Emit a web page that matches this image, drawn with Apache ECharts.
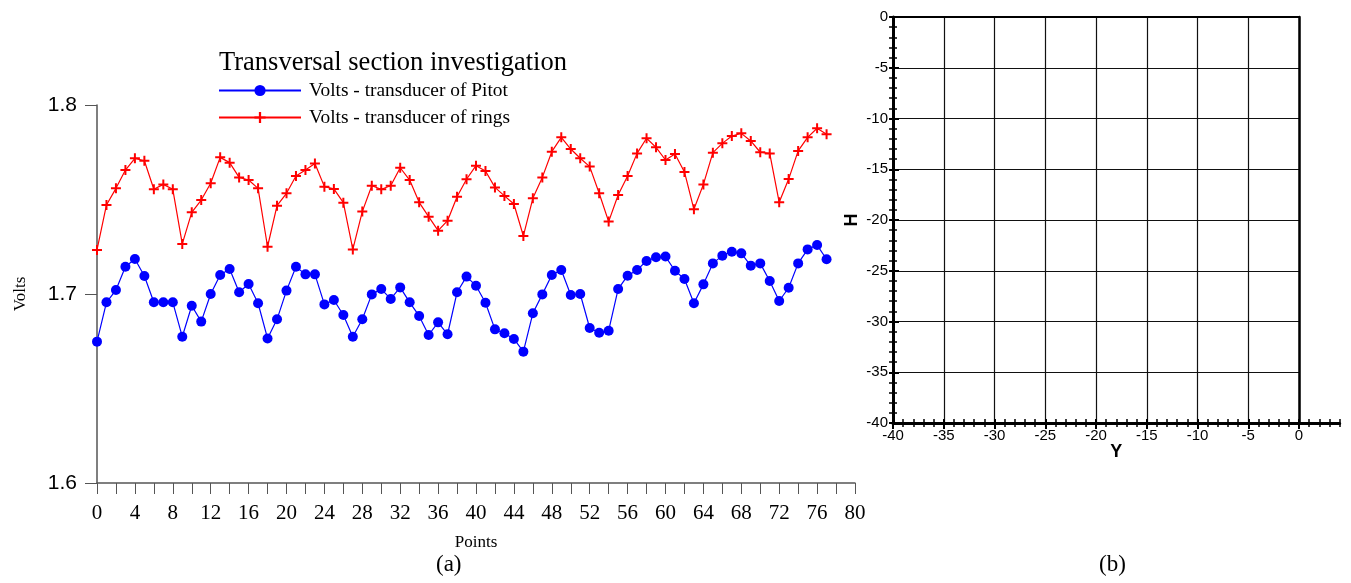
<!DOCTYPE html>
<html>
<head>
<meta charset="utf-8">
<script src="https://cdn.jsdelivr.net/npm/echarts@6/dist/echarts.min.js"></script>
<style>html,body{margin:0;padding:0;background:#fff}#c{width:1351px;height:583px}</style>
</head>
<body>
<div id="c"></div>
<script>
const chartTitle = 'Transversal section investigation';
const seriesNames = ['Volts - transducer of Pitot', 'Volts - transducer of rings'];
const points = [0,1,2,3,4,5,6,7,8,9,10,11,12,13,14,15,16,17,18,19,20,21,22,23,24,25,26,27,28,29,30,31,32,33,34,35,36,37,38,39,40,41,42,43,44,45,46,47,48,49,50,51,52,53,54,55,56,57,58,59,60,61,62,63,64,65,66,67,68,69,70,71,72,73,74,75,76,77];
const pitot = [1.6748,1.6956,1.7021,1.7144,1.7185,1.7095,1.6956,1.6956,1.6956,1.6774,
  1.6938,1.6854,1.7000,1.7101,1.7132,1.7009,1.7053,1.6951,1.6765,1.6866,
  1.7018,1.7144,1.7104,1.7104,1.6945,1.6968,1.6889,1.6774,1.6866,1.6998,
  1.7026,1.6974,1.7035,1.6956,1.6884,1.6783,1.6850,1.6787,1.7009,1.7092,
  1.7044,1.6954,1.6813,1.6792,1.6762,1.6695,1.6898,1.6998,1.7101,1.7127,
  1.6995,1.7000,1.6820,1.6795,1.6806,1.7026,1.7097,1.7127,1.7175,1.7194,
  1.7198,1.7123,1.7079,1.6951,1.7051,1.7162,1.7203,1.7224,1.7215,1.7150,
  1.7162,1.7069,1.6963,1.7033,1.7162,1.7236,1.7259,1.7184];
const rings = [1.7233,1.7471,1.7559,1.7656,1.7718,1.7705,1.7554,1.7580,1.7554,1.7265,
  1.7432,1.7497,1.7586,1.7723,1.7695,1.7617,1.7603,1.7559,1.7250,1.7467,
  1.7533,1.7624,1.7656,1.7691,1.7568,1.7556,1.7483,1.7236,1.7436,1.7573,
  1.7554,1.7573,1.7668,1.7603,1.7485,1.7409,1.7335,1.7388,1.7515,1.7607,
  1.7679,1.7651,1.7564,1.7519,1.7476,1.7307,1.7506,1.7617,1.7753,1.7829,
  1.7767,1.7718,1.7674,1.7533,1.7383,1.7524,1.7624,1.7744,1.7824,1.7776,
  1.7709,1.7741,1.7646,1.7448,1.7580,1.7748,1.7797,1.7836,1.7850,1.7810,
  1.7750,1.7744,1.7485,1.7608,1.7757,1.7829,1.7877,1.7845];
const voltTicks = {min: 1.6, max: 1.8, step: 0.1};
const pointTicks = {min: 0, max: 80, step: 2, labelStep: 4};
const hTicks = {min: -40, max: 0, step: 5};
const yTicks = {min: -40, max: 0, step: 5, extMax: 4};

const serif = '"Liberation Serif", "Times New Roman", serif';
const sans = '"Liberation Sans", Arial, sans-serif';
const plus = 'path://M4,0H6V4H10V6H6V10H4V6H0V4H4Z';

const chart = echarts.init(document.getElementById('c'), null, {renderer: 'canvas'});

const bAxisBase = {
  type: 'value', min: hTicks.min, max: hTicks.max, interval: hTicks.step,
  splitLine: {show: false}, axisLabel: {show: false},
  axisLine: {show: false, onZero: false}
};

chart.setOption({
  animation: false,
  backgroundColor: '#fff',
  title: {
    text: chartTitle, left: 214, top: 45,
    textStyle: {fontFamily: serif, fontSize: 26.5, fontWeight: 'normal', color: '#000'}
  },
  legend: {
    orient: 'vertical', left: 218, top: 81, padding: 0, itemWidth: 82, itemHeight: 14, itemGap: 8,
    textStyle: {fontFamily: serif, fontSize: 19.4, color: '#000', padding: [0, 0, 0, 3]},
    data: seriesNames
  },
  grid: [
    {left: 97, top: 105, width: 758, height: 378},
    {left: 893, top: 17, width: 406, height: 406},
    {left: 893, top: 17, width: 446.6, height: 406}
  ],
  xAxis: [
    {
      gridIndex: 0, type: 'value', position: 'bottom', min: pointTicks.min, max: pointTicks.max, interval: pointTicks.step,
      axisLine: {onZero: false, lineStyle: {color: '#555', width: 1.5}},
      axisTick: {length: 11, lineStyle: {color: '#555'}},
      axisLabel: {fontFamily: serif, fontSize: 21, color: '#000', margin: 20,
        formatter: v => (v % pointTicks.labelStep === 0 ? String(v) : '')},
      splitLine: {show: false},
      name: 'Points', nameLocation: 'middle', nameGap: 51,
      nameTextStyle: {fontFamily: serif, fontSize: 17, color: '#000'}
    },
    {
      gridIndex: 1, type: 'value', position: 'bottom', min: yTicks.min, max: yTicks.max, interval: yTicks.step,
      axisLine: {show: false, onZero: false},
      axisTick: {show: true, length: 6, lineStyle: {color: '#000', width: 2}},
      axisLabel: {fontFamily: sans, fontSize: 15, color: '#000', margin: 5},
      splitLine: {show: true, lineStyle: {color: '#111', width: 1.2}}
    },
    Object.assign({}, bAxisBase, {gridIndex: 1, position: 'bottom', min: yTicks.min, max: yTicks.max,
      axisTick: {show: true, inside: true, length: 4, lineStyle: {color: '#000', width: 2}}}),
    Object.assign({}, bAxisBase, {gridIndex: 1, position: 'top',
      axisLine: {show: true, onZero: false, lineStyle: {color: '#000', width: 2}}, axisTick: {show: false}}),
    Object.assign({}, bAxisBase, {gridIndex: 2, position: 'bottom', min: yTicks.min, max: yTicks.extMax, interval: 1,
      axisLine: {show: true, onZero: false, lineStyle: {color: '#000', width: 3}},
      axisTick: {show: true, length: 4, lineStyle: {color: '#000', width: 1.5}},
      name: 'Y', nameLocation: 'middle', nameGap: 20,
      nameTextStyle: {fontFamily: sans, fontSize: 18, fontWeight: 'bold', color: '#000'}}),
    Object.assign({}, bAxisBase, {gridIndex: 2, position: 'bottom', min: yTicks.min, max: yTicks.extMax, interval: 1,
      axisTick: {show: true, inside: true, length: 4, lineStyle: {color: '#000', width: 1.5}}})
  ],
  yAxis: [
    {
      gridIndex: 0, type: 'value', position: 'left', min: voltTicks.min, max: voltTicks.max, interval: voltTicks.step,
      axisLine: {show: true, onZero: false, lineStyle: {color: '#555', width: 1.5}},
      axisTick: {show: true, length: 12, lineStyle: {color: '#555'}},
      axisLabel: {fontFamily: sans, fontSize: 21, color: '#000', margin: 20, formatter: v => v.toFixed(1)},
      splitLine: {show: false},
      name: 'Volts', nameLocation: 'middle', nameGap: 68,
      nameTextStyle: {fontFamily: serif, fontSize: 17, color: '#000'}
    },
    {
      gridIndex: 1, type: 'value', position: 'left', min: hTicks.min, max: hTicks.max, interval: hTicks.step,
      axisLine: {show: true, onZero: false, lineStyle: {color: '#000', width: 3}},
      axisTick: {show: true, length: 4, lineStyle: {color: '#000', width: 2}},
      minorTick: {show: true, splitNumber: 5, length: 4, lineStyle: {color: '#000', width: 1.5}},
      axisLabel: {fontFamily: sans, fontSize: 15, color: '#000', margin: 5},
      splitLine: {show: true, lineStyle: {color: '#111', width: 1.2}},
      name: 'H', nameLocation: 'middle', nameGap: 32,
      nameTextStyle: {fontFamily: sans, fontSize: 18, fontWeight: 'bold', color: '#000'}
    },
    Object.assign({}, bAxisBase, {gridIndex: 1, position: 'left',
      axisTick: {show: true, inside: true, length: 6, lineStyle: {color: '#000', width: 2}},
      minorTick: {show: true, splitNumber: 5, length: 4, lineStyle: {color: '#000', width: 1.5}}}),
    Object.assign({}, bAxisBase, {gridIndex: 1, position: 'right',
      axisLine: {show: true, onZero: false, lineStyle: {color: '#000', width: 2.5}}, axisTick: {show: false}}),
    Object.assign({}, bAxisBase, {gridIndex: 2, position: 'left', show: false})
  ],
  graphic: [
    {type: 'text', left: 436, top: 553, style: {text: '(a)', fontFamily: serif, fontSize: 23, fill: '#000'}},
    {type: 'text', left: 1099, top: 553, style: {text: '(b)', fontFamily: serif, fontSize: 23, fill: '#000'}}
  ],
  series: [
    {
      name: seriesNames[0], type: 'line', xAxisIndex: 0, yAxisIndex: 0,
      data: points.map((p, i) => [p, pitot[i]]),
      symbol: 'circle', symbolSize: 10,
      lineStyle: {color: '#0000ff', width: 1.2}, itemStyle: {color: '#0000ff'}
    },
    {
      name: seriesNames[1], type: 'line', xAxisIndex: 0, yAxisIndex: 0,
      data: points.map((p, i) => [p, rings[i]]),
      symbol: plus, symbolSize: 10,
      lineStyle: {color: '#ff0000', width: 1.2}, itemStyle: {color: '#ff0000'}
    }
  ]
});
</script>
</body>
</html>
